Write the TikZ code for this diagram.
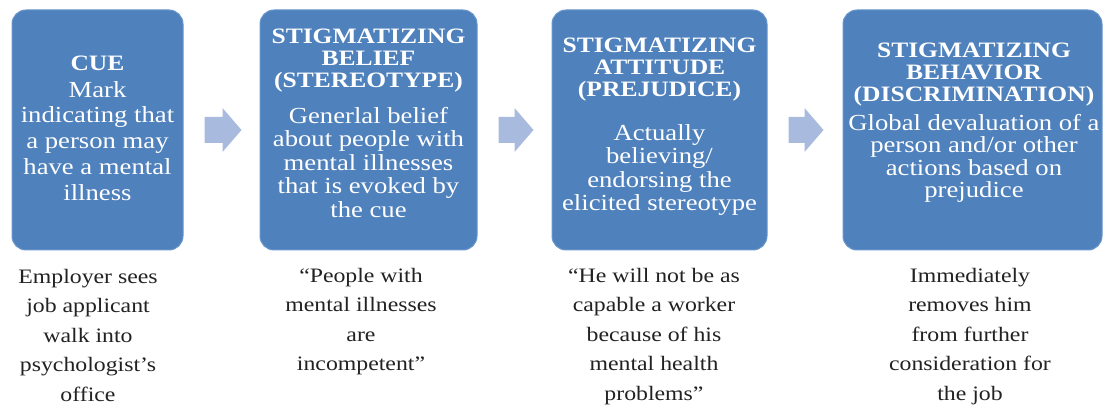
\documentclass[tikz,border=0pt]{standalone}
\usepackage{fontspec}
\setmainfont{Liberation Serif}
\newfontfamily\wideserif[FakeStretch=1.16,Ligatures=TeX]{Liberation Serif}
\usetikzlibrary{calc}
\definecolor{boxblue}{HTML}{4F81BD}
\definecolor{boxedge}{HTML}{6A96CC}
\definecolor{arrowblue}{HTML}{A8BBDF}
\definecolor{bodyink}{HTML}{222222}
\newcommand\tightlines{\lineskiplimit-100pt\relax}
\tikzset{
  x=1pt, y=-1pt,
  stagebox/.style={draw=boxedge, line width=1pt, fill=boxblue, rounded corners=14pt,
    minimum height=240pt, inner sep=0pt},
  titletext/.style={anchor=north, align=center, inner sep=0pt, text=white,
    font=\wideserif\bfseries\fontsize{22}{22}\selectfont\tightlines},
  bodytext/.style={anchor=north, align=center, inner sep=0pt, text=white,
    font=\wideserif\fontsize{23}{#1}\selectfont\tightlines},
  bodytext/.default=23.5,
  exampletext/.style={anchor=north, align=center, inner sep=0pt, text=bodyink,
    font=\wideserif\fontsize{20.5}{29.5}\selectfont\tightlines},
  arrowshape/.style={fill=arrowblue, draw=none}
}
\newcommand\blockarrow[2]{%
  \fill[arrowshape] ($(#1)+(0,-13)$) -- ($(#2)+(-19,-13)$) -- ($(#2)+(-19,-22)$) --
    (#2) -- ($(#2)+(-19,22)$) -- ($(#2)+(-19,13)$) -- ($(#1)+(0,13)$) -- cycle;}
\begin{document}
\begin{tikzpicture}
\useasboundingbox[fill=white] (0,0) rectangle (1104,406);
% boxes
\node[stagebox, minimum width=171pt] (b1) at (97.5,130) {};
\node[stagebox, minimum width=217pt] (b2) at (368.5,130) {};
\node[stagebox, minimum width=215pt] (b3) at (659.5,130) {};
\node[stagebox, minimum width=259pt] (b4) at (972.5,130) {};
% box texts
\node[titletext] (t1) at (97.5,56) {CUE};
\node[bodytext=25.8] (d1) at (97.5,81) {Mark\\indicating that\\a person may\\have a mental\\illness};
\node[titletext] (t2) at (368.5,28.5) {STIGMATIZING\\BELIEF\\(STEREOTYPE)};
\node[bodytext] (d2) at (368.5,107) {Generlal belief\\about people with\\mental illnesses\\that is evoked by\\the cue};
\node[titletext] (t3) at (659.5,38) {STIGMATIZING\\ATTITUDE\\(PREJUDICE)};
\node[bodytext] (d3) at (659.5,124) {Actually\\believing/\\endorsing the\\elicited stereotype};
\node[titletext] (t4) at (974,43) {STIGMATIZING\\BEHAVIOR\\(DISCRIMINATION)};
\node[bodytext=22.4] (d4) at (974,114) {Global devaluation of a\\person and/or other\\actions based on\\prejudice};
% arrows
\coordinate (a1s) at ($(b1.east)+(21,0)$);
\coordinate (a1e) at ($(b2.west)+(-18,0)$);
\coordinate (a2s) at ($(b2.east)+(21,0)$);
\coordinate (a2e) at ($(b3.west)+(-18,0)$);
\coordinate (a3s) at ($(b3.east)+(21,0)$);
\coordinate (a3e) at ($(b4.west)+(-19,0)$);
\blockarrow{a1s}{a1e}
\blockarrow{a2s}{a2e}
\blockarrow{a3s}{a3e}
% examples
\node[exampletext] (e1) at (88,269) {Employer sees\\job applicant\\walk into\\psychologist’s\\office};
\node[exampletext] (e2) at (361,268) {“People with\\mental illnesses\\are\\incompetent”};
\node[exampletext] (e3) at (654,268) {“He will not be as\\capable a worker\\because of his\\mental health\\problems”};
\node[exampletext] (e4) at (970,268) {Immediately\\removes him\\from further\\consideration for\\the job};
\end{tikzpicture}
\end{document}
